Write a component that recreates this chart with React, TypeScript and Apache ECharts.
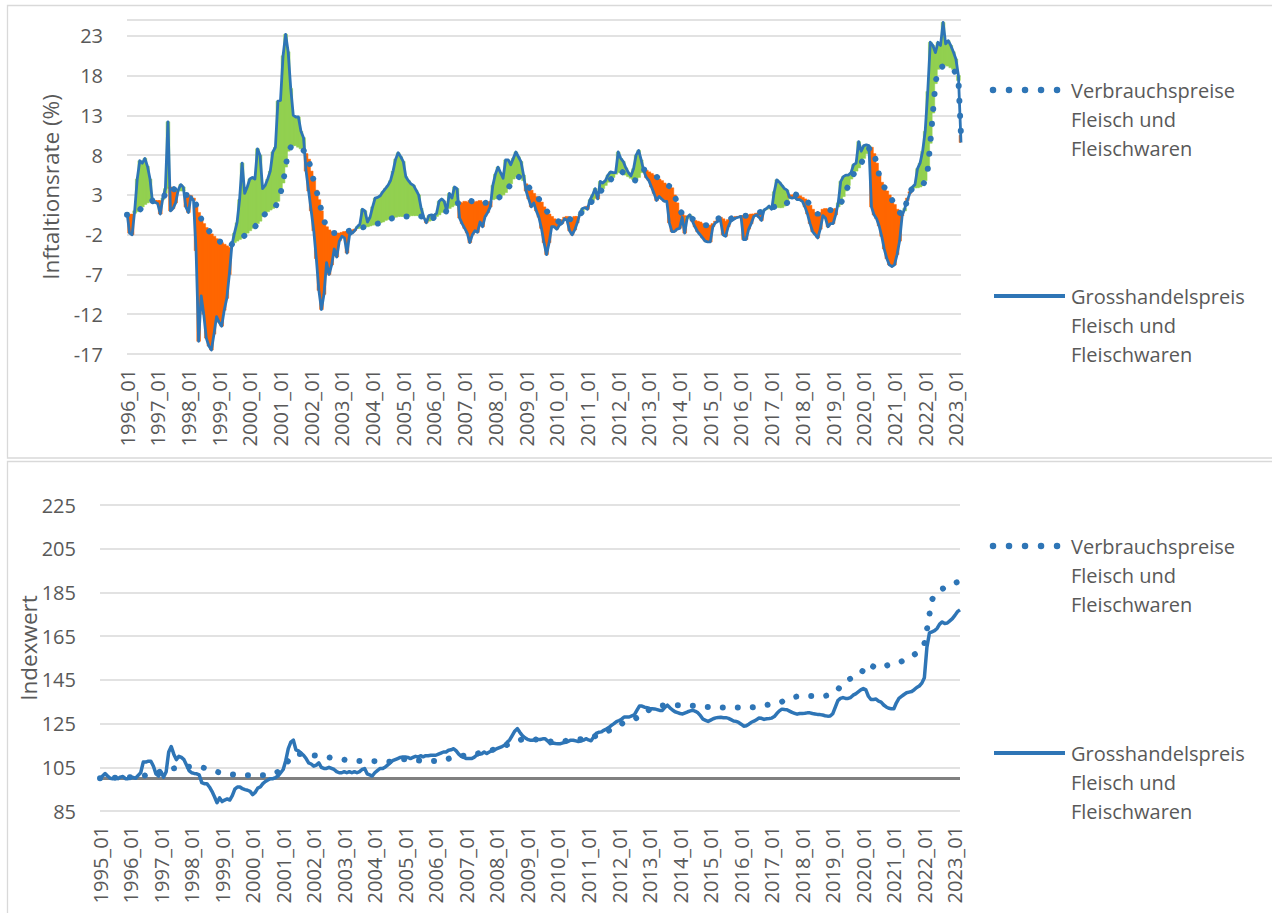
import React, { useEffect, useRef } from 'react';
import * as echarts from 'echarts';

// ---- Top panel: year-on-year inflation rates (%), monthly from 1996_01 ----
const rateConsumer = [
  0.5, 0.5, 0.6, 0.7, 0.9, 1.1, 1.5, 1.8, 2.0, 2.2, 2.3, 2.3,
  2.3, 2.3, 2.4, 3.2, 3.8, 4.0, 3.8, 3.6, 3.5, 3.5, 3.5, 3.0,
  3.0, 2.9, 2.6, 1.8, 0.8, 0.0, -0.6, -1.1, -1.5, -1.9, -2.2, -2.5,
  -2.8, -3.0, -3.2, -3.4, -3.6, -3.2, -3.0, -2.8, -2.6, -2.4, -2.1, -1.8,
  -1.5, -1.2, -1.0, -0.6, -0.3, 0.3, 0.6, 0.9, 1.1, 1.3, 1.5, 2.2,
  3.2, 4.5, 6.5, 8.5, 9.0, 9.2, 9.2, 9.0, 8.8, 8.6, 8.2, 7.5,
  6.0, 4.8, 3.6, 2.4, 1.0, -0.2, -1.0, -1.4, -1.6, -1.8, -1.8, -1.8,
  -1.7, -1.6, -1.6, -1.5, -1.4, -1.3, -1.2, -1.2, -1.1, -1.0, -1.0, -0.9,
  -0.8, -0.7, -0.6, -0.5, -0.4, -0.2, -0.1, 0.0, 0.1, 0.2, 0.3, 0.3,
  0.3, 0.3, 0.3, 0.4, 0.4, 0.4, 0.4, 0.3, 0.2, 0.0, -0.3, -0.2,
  0.2, 0.3, 0.5, 0.8, 1.0, 0.9, 1.3, 1.5, 1.7, 1.9, 2.1, 2.0,
  2.2, 2.1, 2.3, 2.2, 2.1, 2.2, 2.3, 2.1, 2.0, 2.1, 2.2, 2.4,
  2.5, 2.6, 2.8, 3.0, 3.3, 3.8, 4.4, 5.0, 5.3, 5.3, 5.1, 4.8,
  4.4, 4.0, 3.6, 3.2, 2.8, 2.5, 2.1, 1.5, 1.0, 0.6, 0.3, 0.0,
  -0.2, -0.4, -0.1, 0.2, 0.3, 0.0, -0.2, 0.3, 0.3, 0.5, 0.9, 1.3,
  1.6, 1.9, 2.3, 2.6, 3.0, 3.4, 3.8, 4.2, 4.6, 4.9, 5.2, 5.6,
  5.8, 6.0, 5.8, 5.5, 5.3, 5.1, 4.9, 4.8, 5.2, 5.8, 6.2, 6.1,
  5.9, 5.7, 5.5, 5.3, 5.0, 4.8, 4.5, 4.3, 4.1, 3.9, 3.0, 2.0,
  1.0, 0.7, 0.4, 0.0, 0.2, 0.0, -0.2, -0.3, -0.4, -0.6, -0.8, -0.8,
  -0.8, -0.6, -0.3, 0.0, 0.2, 0.0, -0.3, -0.1, 0.0, 0.2, 0.3, 0.3,
  0.4, 0.4, 0.4, 0.5, 0.6, 0.6, 0.7, 0.8, 0.9, 1.0, 1.2, 1.3,
  1.4, 1.5, 1.5, 1.4, 1.4, 1.6, 2.0, 3.0, 3.0, 3.1, 3.0, 2.9,
  2.7, 2.5, 2.2, 1.7, 1.2, 0.8, 0.6, 0.8, 1.2, 1.3, 1.2, 1.1,
  1.2, 1.3, 1.5, 1.8, 2.8, 3.5, 4.2, 5.0, 5.6, 6.0, 6.4, 7.0,
  7.6, 8.2, 8.8, 9.0, 8.2, 7.0, 5.5, 4.6, 4.0, 3.5, 3.0, 2.4,
  1.8, 1.2, 0.8, 0.5, 1.0, 2.6, 3.4, 3.8, 3.9, 3.9, 4.0, 4.2,
  4.8, 6.2, 9.5, 13.3, 17.0, 18.8, 19.0, 19.2, 19.3, 19.2, 19.0, 18.8,
  18.3, 17.4, 10.5,
];

const rateWholesale = [
  0.8, -1.8, -2.0, 1.0, 5.0, 7.3, 7.0, 7.6, 6.6, 5.0, 2.0, 2.1,
  1.9, 0.6, 2.6, 3.8, 12.2, 1.0, 1.3, 2.0, 3.6, 4.3, 4.0, 1.5,
  0.8, 2.8, 2.3, -4.0, -15.4, -9.7, -12.0, -15.0, -16.0, -16.5, -14.5, -12.3,
  -13.0, -13.5, -11.5, -10.0, -7.0, -3.3, -1.8, -0.5, 2.4, 7.0, 3.2, 4.0,
  5.0, 5.2, 5.0, 8.8, 8.0, 3.8, 4.2, 5.0, 6.0, 8.4, 9.0, 14.8,
  14.9, 20.5, 23.2, 21.0, 16.4, 13.0, 12.8, 12.8, 11.0, 10.2, 6.0, 3.5,
  1.0, -1.5, -5.0, -9.0, -11.4, -9.5, -5.5, -7.0, -5.8, -3.8, -4.8, -2.8,
  -2.2, -2.4, -4.3, -2.0, -1.8, -1.5, -1.0, -0.7, 1.2, 1.0, -0.4, 0.2,
  1.5, 2.6, 2.7, 2.9, 3.4, 3.8, 4.2, 4.8, 6.0, 7.5, 8.3, 7.8,
  7.2, 5.3, 4.8, 4.4, 4.2, 3.6, 3.0, 1.3, 0.2, -0.5, 0.4, 0.5,
  0.4, 0.7, 2.2, 2.5, 2.2, 1.0, 3.2, 2.6, 4.0, 3.8, 0.1, -0.6,
  -1.2, -1.8, -3.0, -2.0, -1.5, -1.7, -0.4, -1.0, 0.3, 0.8, 1.5, 4.2,
  5.6, 6.5, 5.8, 5.1, 7.4, 7.4, 6.8, 7.6, 8.4, 7.8, 7.2, 5.5,
  3.5, 2.5, 1.5, 2.0, 1.0, 0.2, -1.2, -3.0, -4.5, -3.0, -1.0, -1.0,
  -1.3, -0.8, -0.6, 0.0, -0.2, -1.5, -2.0, -1.4, -0.5, 0.6, 1.3, 1.4,
  1.2, 2.4, 3.0, 3.8, 2.5, 4.7, 4.5, 4.8, 5.5, 5.9, 5.8, 5.8,
  8.4, 7.6, 7.2, 6.4, 5.8, 5.4, 6.3, 8.0, 8.6, 7.4, 6.0, 5.2,
  4.8, 4.0, 3.2, 2.3, 2.8, 2.5, 2.2, 2.2, -0.5, -1.6, -1.6, -1.3,
  -1.2, 0.2, -1.8, 0.2, 0.5, -0.3, -1.0, -1.6, -2.0, -2.4, -2.8, -2.9,
  -2.9, -1.0, -0.5, -0.3, -0.2, -2.0, -2.2, -1.0, -0.3, -0.1, 0.1, 0.2,
  0.3, -2.6, -2.6, -1.3, -0.6, 0.3, 0.5, 0.2, -0.2, 1.1, 1.3, 1.6,
  1.2, 3.4, 4.9, 4.6, 4.2, 3.8, 3.6, 2.7, 2.6, 2.7, 2.4, 2.4,
  2.2, 1.5, 0.6, -0.6, -1.6, -2.0, -2.4, -1.3, 0.4, 0.1, -1.0, -0.6,
  -0.6, 0.5, 2.0, 4.7, 5.3, 5.5, 5.5, 5.8, 6.8, 7.0, 9.7, 8.5,
  9.2, 9.3, 9.2, 1.5, 0.5, 0.0, -0.9, -2.2, -3.8, -5.0, -5.8, -6.0,
  -5.8, -4.5, -2.8, 0.4, 1.3, 2.3, 3.2, 4.0, 4.3, 6.3, 7.0, 8.5,
  11.0, 16.0, 22.2, 21.8, 20.9, 22.2, 21.8, 24.7, 22.0, 22.4, 21.8, 21.0,
  20.1, 18.0, 9.6,
];

// ---- Bottom panel: index values, monthly from 1995_01 ----
const indexConsumer = [
  100.0, 100.0, 100.1, 100.1, 100.1, 100.2, 100.2, 100.2, 100.3, 100.3, 100.4, 100.4,
  100.5, 100.6, 100.7, 100.8, 100.9, 101.1, 101.3, 101.6, 101.9, 102.2, 102.5, 102.8,
  103.1, 103.4, 103.7, 104.0, 104.3, 104.5, 104.7, 104.9, 105.0, 105.1, 105.2, 105.3,
  105.3, 105.3, 105.3, 105.2, 105.0, 104.7, 104.3, 103.9, 103.5, 103.2, 102.9, 102.6,
  102.4, 102.2, 102.0, 101.8, 101.7, 101.6, 101.5, 101.4, 101.3, 101.3, 101.3, 101.3,
  101.3, 101.3, 101.3, 101.3, 101.4, 101.5, 101.6, 101.8, 102.0, 102.3, 103.0, 104.0,
  105.2, 106.6, 108.0, 109.5, 110.6, 111.0, 111.1, 111.1, 111.0, 110.8, 110.6, 110.5,
  110.4, 110.3, 110.1, 110.0, 109.8, 109.7, 109.5, 109.3, 109.1, 109.0, 108.8, 108.6,
  108.5, 108.3, 108.2, 108.1, 108.0, 107.9, 107.9, 107.9, 107.9, 107.9, 107.9, 107.8,
  107.8, 107.7, 107.6, 107.5, 107.4, 107.5, 107.6, 107.8, 108.0, 108.3, 108.6, 108.7,
  108.7, 108.6, 108.5, 108.4, 108.2, 108.1, 108.0, 107.9, 107.8, 107.7, 107.7, 107.8,
  107.9, 108.0, 108.1, 108.2, 108.5, 108.9, 109.3, 109.7, 110.0, 110.1, 110.2, 110.3,
  110.4, 110.5, 110.6, 110.9, 111.2, 111.5, 111.8, 112.0, 112.3, 112.6, 112.9, 113.2,
  113.5, 113.8, 114.3, 114.8, 115.3, 115.7, 116.1, 116.6, 117.0, 117.4, 117.8, 118.1,
  118.1, 118.0, 117.9, 117.8, 117.6, 117.5, 117.4, 117.2, 117.0, 116.8, 116.6, 116.6,
  116.7, 116.8, 116.9, 117.1, 117.3, 117.4, 117.5, 117.6, 117.7, 117.8, 118.0, 118.1,
  118.3, 118.6, 119.0, 119.4, 119.9, 120.3, 120.8, 121.3, 121.8, 122.3, 122.8, 123.5,
  124.2, 124.9, 125.5, 126.0, 126.4, 126.8, 127.2, 127.6, 128.0, 128.8, 129.6, 130.4,
  131.5, 132.0, 132.4, 132.7, 133.0, 133.2, 133.4, 133.4, 133.4, 133.4, 133.4, 133.4,
  133.4, 133.3, 133.3, 133.2, 133.1, 133.1, 133.0, 132.9, 132.8, 132.7, 132.6, 132.6,
  132.5, 132.4, 132.4, 132.3, 132.3, 132.3, 132.3, 132.3, 132.3, 132.3, 132.3, 132.3,
  132.3, 132.3, 132.3, 132.3, 132.4, 132.5, 132.7, 132.9, 133.1, 133.3, 133.5, 133.7,
  133.9, 134.2, 134.5, 134.6, 135.0, 135.6, 136.2, 136.6, 137.0, 137.2, 137.4, 137.5,
  137.6, 137.6, 137.6, 137.6, 137.6, 137.6, 137.6, 137.6, 137.6, 137.7, 137.9, 138.3,
  138.8, 139.3, 140.5, 142.0, 143.4, 144.3, 145.0, 145.6, 146.0, 146.4, 146.8, 148.0,
  149.5, 151.5, 152.3, 151.8, 151.0, 150.4, 150.3, 150.6, 151.0, 151.5, 151.9, 152.1,
  152.2, 152.5, 152.9, 153.4, 154.0, 154.6, 155.2, 155.8, 156.5, 157.3, 158.3, 159.8,
  161.6, 168.0, 175.0, 181.7, 183.6, 185.0, 186.0, 186.6, 187.2, 187.8, 188.3, 188.8,
  189.4, 189.7, 189.9,
];

const indexWholesale = [
  99.5, 101.0, 102.1, 101.0, 100.0, 99.8, 100.6, 99.8, 100.5, 100.8, 99.8, 99.8,
  100.3, 100.3, 100.0, 101.3, 102.5, 107.4, 107.4, 107.8, 107.8, 105.5, 102.0, 101.0,
  102.9, 100.5, 103.0, 112.0, 114.5, 111.0, 108.5, 110.0, 109.5, 108.5, 106.0, 103.5,
  102.5, 102.2, 102.0, 101.5, 98.0, 97.5, 97.5, 96.0, 94.0, 91.5, 88.8, 91.0,
  89.3, 90.0, 90.5, 90.0, 92.0, 95.0, 96.0, 96.0, 95.2, 94.8, 94.5, 94.0,
  92.5, 93.5, 95.5, 96.0, 97.5, 98.5, 99.2, 99.8, 99.8, 100.3, 101.0, 102.5,
  104.0, 108.0, 113.5, 116.5, 117.4, 113.0, 112.5, 111.5, 110.5, 109.0, 107.0, 106.5,
  105.5, 106.0, 107.0, 105.0, 104.5, 104.5, 105.0, 104.5, 104.0, 103.0, 102.5, 102.5,
  103.0, 102.5, 103.0, 102.5, 103.0, 102.5, 103.0, 104.0, 104.4, 102.0, 101.5, 101.0,
  102.5, 103.5, 104.4, 104.4, 105.0, 106.0, 107.0, 108.0, 108.5, 109.0, 109.5, 109.7,
  109.7, 109.5, 109.0, 109.5, 110.0, 109.7, 110.3, 109.8, 110.3, 110.3, 110.5, 110.5,
  110.5, 111.0, 111.5, 112.0, 112.0, 112.8, 113.0, 113.5, 112.5, 111.0, 110.0, 109.5,
  109.0, 109.0, 109.0, 109.5, 110.5, 111.0, 111.2, 112.0, 111.3, 112.0, 112.5, 113.0,
  113.5, 114.0, 114.5, 115.1, 116.4, 117.5, 119.5, 121.5, 122.7, 121.0, 119.5, 118.5,
  117.8, 117.4, 117.4, 117.7, 117.7, 117.7, 118.0, 118.0, 117.0, 115.8, 116.1, 115.9,
  115.8, 115.8, 116.2, 116.4, 116.9, 117.4, 117.4, 117.1, 116.8, 117.0, 117.4, 118.1,
  117.5, 117.1, 118.9, 120.5, 121.0, 121.2, 121.9, 122.5, 123.2, 124.2, 125.0, 125.9,
  126.4, 127.0, 128.0, 128.0, 128.0, 128.5, 129.0, 131.0, 133.0, 133.0, 132.5, 132.3,
  131.9, 131.8, 131.7, 131.4, 131.0, 131.0, 132.4, 133.4, 132.2, 131.2, 130.4, 130.0,
  129.6, 129.4, 129.9, 130.4, 130.8, 131.1, 130.6, 129.9, 128.6, 127.0, 126.5, 126.0,
  126.6, 127.2, 127.6, 127.8, 127.9, 127.7, 127.7, 127.4, 126.8, 126.2, 126.0, 125.5,
  124.7, 123.8, 124.0, 124.7, 125.6, 126.1, 126.8, 127.5, 127.4, 126.9, 127.2, 127.3,
  127.5, 128.2, 129.6, 130.8, 131.6, 131.4, 131.3, 130.7, 130.1, 129.7, 129.3, 129.6,
  129.6, 129.7, 129.9, 129.9, 129.6, 129.4, 129.2, 129.1, 128.9, 128.6, 128.4, 128.5,
  129.5, 132.5, 135.5, 136.5, 136.9, 136.5, 136.5, 136.9, 138.0, 138.6, 139.5, 140.4,
  141.0, 140.4, 137.5, 136.0, 136.0, 136.2, 135.3, 134.8, 133.5, 132.6, 132.0, 131.8,
  131.8, 134.5, 136.5, 137.4, 138.3, 139.1, 139.4, 139.7, 140.5, 141.5, 142.2, 143.5,
  146.0, 160.0, 166.5, 167.0, 167.5, 168.5, 170.5, 171.5, 170.8, 171.0, 172.0, 173.0,
  174.5, 176.2, 177.0,
];

const referenceLevel = 100;
const legendConsumer = ['Verbrauchspreise', 'Fleisch und', 'Fleischwaren'];
const legendWholesale = ['Grosshandelspreis', 'Fleisch und', 'Fleischwaren'];
const titleTop = 'Inftaltionsrate (%)';
const titleBottom = 'Indexwert';

function monthLabels(startYear: number, count: number): string[] {
  const out: string[] = [];
  for (let k = 0; k < count; k++) {
    const y = startYear + Math.floor(k / 12);
    const m = (k % 12) + 1;
    out.push(`${y}_${m < 10 ? '0' + m : m}`);
  }
  return out;
}

const topCategories = monthLabels(1996, rateWholesale.length);
const bottomCategories = monthLabels(1995, indexWholesale.length);

const BLUE = '#2E75B6';
const GREEN = '#92D050';
const ORANGE = '#FF6600';
const GRIDC = '#D9D9D9';
const TEXT = '#595959';
const FONT = "'Open Sans', sans-serif";

export default function App() {
  const ref = useRef<HTMLDivElement>(null);

  useEffect(() => {
    if (!ref.current) return;
    const chart = echarts.init(ref.current, undefined, { renderer: 'svg' });

    const barData = rateConsumer.map((c, i) => [i, c, rateWholesale[i]]);

    const xAxisBase = (gridIndex: number, data: string[]) => ({
      type: 'category',
      gridIndex,
      data,
      boundaryGap: false,
      axisLine: { show: false },
      axisTick: { show: false },
      splitLine: { show: false },
      axisLabel: {
        interval: (index: number) => index % 12 === 0,
        rotate: 90,
        margin: 15,
        color: TEXT,
        fontSize: 20,
        fontFamily: FONT,
      },
    });

    const legendGraphics = (yFirst: number, ySecond: number) => [
      {
        type: 'line',
        shape: { x1: 993, y1: yFirst, x2: 1059, y2: yFirst },
        style: { stroke: BLUE, lineWidth: 6.5, lineDash: [0.01, 16], lineCap: 'round' },
      },
      {
        type: 'text',
        x: 1071,
        y: yFirst - 14.5,
        style: {
          text: legendConsumer.join('\n'),
          fontSize: 20,
          fontFamily: FONT,
          fill: TEXT,
          lineHeight: 29,
          align: 'left',
          verticalAlign: 'top',
        },
      },
      {
        type: 'line',
        shape: { x1: 994, y1: ySecond, x2: 1065, y2: ySecond },
        style: { stroke: BLUE, lineWidth: 4 },
      },
      {
        type: 'text',
        x: 1071,
        y: ySecond - 14.5,
        style: {
          text: legendWholesale.join('\n'),
          fontSize: 20,
          fontFamily: FONT,
          fill: TEXT,
          lineHeight: 29,
          align: 'left',
          verticalAlign: 'top',
        },
      },
    ];

    const option: any = {
      animation: false,
      textStyle: { fontFamily: FONT },
      grid: [
        { left: 127, top: 20, width: 834, height: 334 },
        { left: 100, top: 505, width: 860, height: 306 },
      ],
      xAxis: [xAxisBase(0, topCategories), xAxisBase(1, bottomCategories)],
      yAxis: [
        {
          type: 'value',
          gridIndex: 0,
          min: -17,
          max: 25,
          interval: 5,
          axisLine: { show: false },
          axisTick: { show: false },
          axisLabel: {
            margin: 24,
            color: TEXT,
            fontSize: 20,
            fontFamily: FONT,
            formatter: (v: number) => (v === 25 ? '' : String(v)),
          },
          splitLine: { lineStyle: { color: GRIDC, width: 1.5 } },
        },
        {
          type: 'value',
          gridIndex: 1,
          min: 85,
          max: 225,
          interval: 20,
          axisLine: { show: false },
          axisTick: { show: false },
          axisLabel: { margin: 24, color: TEXT, fontSize: 20, fontFamily: FONT },
          splitLine: { lineStyle: { color: GRIDC, width: 1.5 } },
        },
      ],
      series: [
        {
          type: 'custom',
          name: 'Differenz',
          xAxisIndex: 0,
          yAxisIndex: 0,
          clip: true,
          encode: { x: 0, y: [1, 2] },
          data: barData,
          z: 1,
          renderItem: (params: any, api: any) => {
            const i = api.value(0);
            const c = api.value(1);
            const w = api.value(2);
            const p1 = api.coord([i, c]);
            const p2 = api.coord([i, w]);
            const bw = api.size([1, 0])[0];
            const h = Math.abs(p2[1] - p1[1]);
            if (h < 0.01) return null;
            return {
              type: 'rect',
              shape: { x: p1[0] - bw / 2 - 0.6, y: Math.min(p1[1], p2[1]), width: bw + 1.2, height: h },
              style: { fill: w >= c ? GREEN : ORANGE, stroke: w >= c ? GREEN : ORANGE, lineWidth: 0.5 },
            };
          },
        },
        {
          type: 'line',
          name: 'Grosshandelspreis Fleisch und Fleischwaren',
          xAxisIndex: 0,
          yAxisIndex: 0,
          data: rateWholesale,
          symbol: 'none',
          showSymbol: false,
          lineStyle: { color: BLUE, width: 2.8, join: 'round' },
          z: 3,
        },
        {
          type: 'line',
          name: 'Verbrauchspreise Fleisch und Fleischwaren',
          xAxisIndex: 0,
          yAxisIndex: 0,
          data: rateConsumer,
          symbol: 'none',
          showSymbol: false,
          lineStyle: { color: BLUE, width: 6, type: [0.01, 15], cap: 'round' },
          z: 4,
        },
        {
          type: 'line',
          name: 'Verbrauchspreise Index',
          xAxisIndex: 1,
          yAxisIndex: 1,
          data: indexConsumer,
          symbol: 'none',
          showSymbol: false,
          lineStyle: { color: BLUE, width: 6, type: [0.01, 15], cap: 'round' },
          z: 4,
          markLine: {
            silent: true,
            symbol: ['none', 'none'],
            label: { show: false },
            lineStyle: { color: '#808080', width: 3, type: 'solid' },
            data: [{ yAxis: referenceLevel }],
            z: 2,
          },
        },
        {
          type: 'line',
          name: 'Grosshandelspreis Index',
          xAxisIndex: 1,
          yAxisIndex: 1,
          data: indexWholesale,
          symbol: 'none',
          showSymbol: false,
          lineStyle: { color: BLUE, width: 3.5, join: 'round' },
          z: 3,
        },
      ],
      graphic: [
        {
          type: 'rect',
          shape: { x: 7.5, y: 5.5, width: 1300, height: 452.5 },
          style: { fill: 'none', stroke: GRIDC, lineWidth: 1.3 },
          silent: true,
        },
        {
          type: 'rect',
          shape: { x: 7.5, y: 461.5, width: 1300, height: 500 },
          style: { fill: 'none', stroke: GRIDC, lineWidth: 1.3 },
          silent: true,
        },
        {
          type: 'text',
          x: 50,
          y: 187,
          rotation: Math.PI / 2,
          style: {
            text: titleTop,
            fontSize: 22.5,
            fontFamily: FONT,
            fill: TEXT,
            align: 'center',
            verticalAlign: 'middle',
          },
        },
        {
          type: 'text',
          x: 28,
          y: 648,
          rotation: Math.PI / 2,
          style: {
            text: titleBottom,
            fontSize: 22.5,
            fontFamily: FONT,
            fill: TEXT,
            align: 'center',
            verticalAlign: 'middle',
          },
        },
        ...legendGraphics(90, 296),
        ...legendGraphics(546, 753),
      ],
    };

    chart.setOption(option);
    return () => {
      chart.dispose();
    };
  }, []);

  return (
    <div
      ref={ref}
      style={{ position: 'absolute', left: 0, top: 0, width: 1272, height: 913, background: '#ffffff' }}
    />
  );
}
